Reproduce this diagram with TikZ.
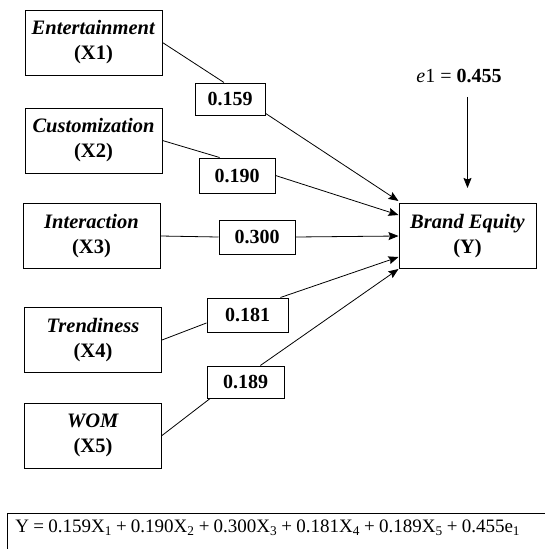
\documentclass[tikz,border=0pt]{standalone}
\usepackage{fontspec}
\setmainfont{Liberation Serif}
\usetikzlibrary{arrows.meta}

\tikzset{
  var/.style={draw, line width=1pt, minimum width=137pt, minimum height=65pt,
    align=center, font=\fontsize{20.5}{25}\selectfont\bfseries},
  coef/.style={draw, line width=1pt, fill=white, minimum width=76pt,
    minimum height=33pt, inner sep=0pt, font=\fontsize{20}{24}\selectfont\bfseries},
  link/.style={line width=0.8pt},
  arr/.style={link, -{Stealth[length=10pt,width=8pt,inset=1.5pt]}}
}

\begin{document}
\begin{tikzpicture}[x=1pt,y=-1pt]
\useasboundingbox (0,0) rectangle (545,549);
% variables
\node[var] (x1) at (93.5,42.5) {\textit{Entertainment}\\(X1)};
\node[var] (x2) at (93.5,140.5) {\textit{Customization}\\(X2)};
\node[var] (x3) at (91.5,236) {\textit{Interaction}\\(X3)};
\node[var] (x4) at (93,340) {\textit{Trendiness}\\(X4)};
\node[var] (x5) at (93,435.5) {\textit{WOM}\\(X5)};
\node[var] (be) at (467.5,236) {\textit{Brand Equity}\\(Y)};
% path coefficients
\node[coef, minimum width=70pt, minimum height=32pt] (l1) at (230,99) {0.159};
\node[coef, minimum height=35pt] (l2) at (237,175.5) {0.190};
\node[coef, minimum height=34pt] (l3) at (257,237) {0.300};
\node[coef, minimum width=81pt, minimum height=34pt] (l4) at (247.5,315) {0.181};
\node[coef, minimum width=77pt, minimum height=32pt] (l5) at (245.5,382) {0.189};
% arrow ends on Brand Equity
\coordinate (in1) at ([yshift=2pt]be.north west);
\coordinate (in2) at ([yshift=21pt]be.west);
\coordinate (in3) at (be.west);
\coordinate (in4) at ([yshift=-21pt]be.west);
\coordinate (in5) at (be.south west);
\draw[link] (x1.east) -- (l1.110);
\draw[arr] (l1.-22) -- (in1);
\draw[link] (x2.east) -- (l2.134);
\draw[arr] (l2.east) -- (in2);
\draw[link] (x3.east) -- (l3.west);
\draw[arr] (l3.east) -- (in3);
\draw[link] (x4.east) -- (l4.191);
\draw[arr] (l4.28) -- (in4);
\draw[link] (x5.east) -- (l5.205);
\draw[arr] (l5.48) -- (in5);
% error term
\node[font=\fontsize{20}{24}\selectfont, anchor=base] (e1) at (459,82) {\textit{e}1 = \textbf{0.455}};
\coordinate (e1end) at ([yshift=15pt]be.north);
\draw[arr] ([yshift=-11pt]e1.south -| e1end) -- (e1end);
% regression equation
\node[draw, line width=1pt, anchor=north west, inner xsep=8pt, inner ysep=6pt,
  text width=560pt, align=left, text height=13.3pt, text depth=40pt,
  font=\fontsize{19}{23}\selectfont] (eq) at (7,513)
  {\spaceskip=0.22em\relax
   Y = 0.159X\textsubscript{1} + 0.190X\textsubscript{2} + 0.300X\textsubscript{3} + 0.181X\textsubscript{4} + 0.189X\textsubscript{5} + 0.455e\textsubscript{1}};
\end{tikzpicture}
\end{document}
